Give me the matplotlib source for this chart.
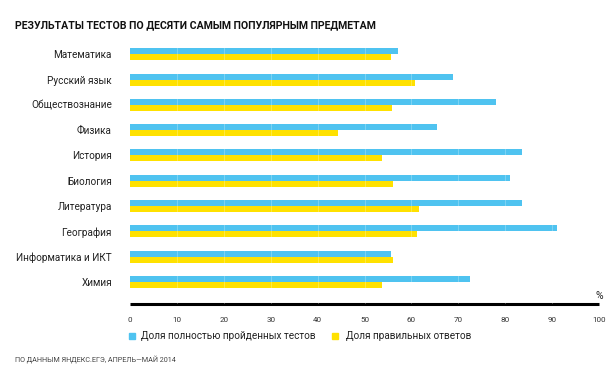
import matplotlib.pyplot as plt
import numpy as np

plt.rcParams['font.family'] = ['Roboto', 'DejaVu Sans']

subjects = ['Математика', 'Русский язык', 'Обществознание', 'Физика', 'История',
            'Биология', 'Литература', 'География', 'Информатика и ИКТ', 'Химия']
completed = [57.2, 68.8, 78.0, 65.5, 83.6, 81.0, 83.5, 91.1, 55.7, 72.4]
correct = [55.6, 60.8, 55.9, 44.3, 53.7, 56.0, 61.6, 61.3, 56.1, 53.7]
xticks = [0, 10, 20, 30, 40, 50, 60, 70, 80, 90, 100]

blue = '#4fc3f0'
yellow = '#ffe100'
W, H = 611, 386

fig = plt.figure(figsize=(W / 100, H / 100), dpi=100)
ax = fig.add_axes([130 / W, 1 - 304 / H, 469 / W, 264 / H])

y = np.arange(len(subjects))
bh = 0.237
ax.barh(y - bh / 2, completed, height=bh, color=blue, zorder=2)
ax.barh(y + bh / 2, correct, height=bh, color=yellow, zorder=2)

# faint light stripes across the bars at every 10%
for t in xticks[1:-1]:
    ax.axvline(t, color='white', lw=0.6, alpha=0.3, zorder=3)

ax.set_xlim(0, 100)
ax.set_ylim(9.87, -0.565)
ax.set_yticks(y)
ax.set_yticklabels(subjects, fontsize=7.2, color='#222222')
ax.set_xticks(xticks)
ax.set_xticklabels([str(t) for t in xticks], fontsize=5.8, color='#333333')
ax.tick_params(axis='y', length=0, pad=13)
ax.tick_params(axis='x', length=0, pad=9)

for s in ['top', 'right', 'left']:
    ax.spines[s].set_visible(False)
ax.spines['bottom'].set_linewidth(2.2)
ax.spines['bottom'].set_color('black')
ax.spines['bottom'].set_capstyle('butt')

fig.text(15 / W, 1 - 25 / H, 'РЕЗУЛЬТАТЫ ТЕСТОВ ПО ДЕСЯТИ САМЫМ ПОПУЛЯРНЫМ ПРЕДМЕТАМ',
         fontsize=7.6, fontweight='bold', color='#111111', va='center', ha='left')
fig.text(603 / W, 1 - 296 / H, '%', fontsize=7.5, color='#222222', ha='right', va='center')

# legend
ly = 1 - 336 / H
fig.patches.append(plt.Rectangle((129 / W, ly - 3 / H), 6 / W, 6 / H,
                                 transform=fig.transFigure, color=blue))
fig.text(141 / W, ly, 'Доля полностью пройденных тестов', fontsize=7.2,
         color='#222222', va='center', ha='left')
fig.patches.append(plt.Rectangle((332 / W, ly - 3 / H), 6 / W, 6 / H,
                                 transform=fig.transFigure, color=yellow))
fig.text(346 / W, ly, 'Доля правильных ответов', fontsize=7.2,
         color='#222222', va='center', ha='left')

fig.text(15 / W, 1 - 360 / H, 'ПО ДАННЫМ ЯНДЕКС.ЕГЭ, АПРЕЛЬ—МАЙ 2014',
         fontsize=5.2, color='#444444', va='center', ha='left')

fig.savefig('out.png', dpi=100)
